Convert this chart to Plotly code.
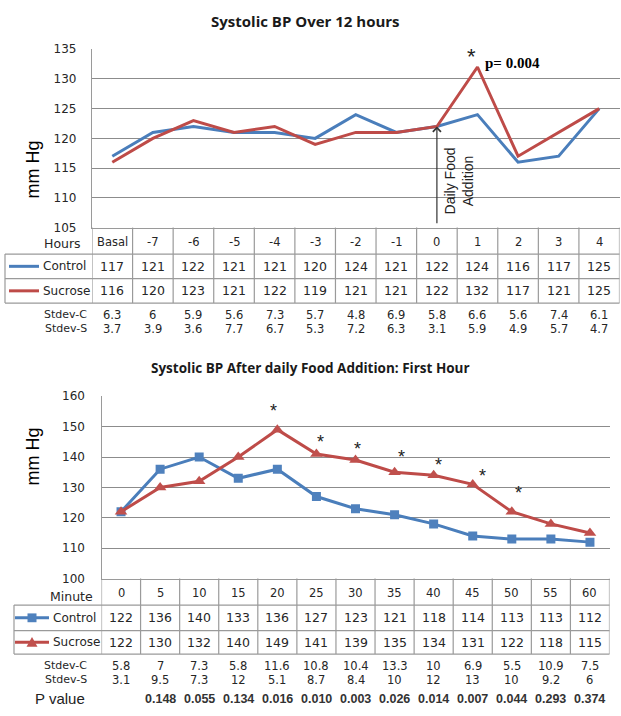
import plotly.graph_objects as go

W, H = 621, 716

# ---------------- data ----------------
hours = ["Basal", "-7", "-6", "-5", "-4", "-3", "-2", "-1", "0", "1", "2", "3", "4"]
ctrl_12h = [117, 121, 122, 121, 121, 120, 124, 121, 122, 124, 116, 117, 125]
sucr_12h = [116, 120, 123, 121, 122, 119, 121, 121, 122, 132, 117, 121, 125]
sd_c_12h = ["6.3", "6", "5.9", "5.6", "7.3", "5.7", "4.8", "6.9", "5.8", "6.6", "5.6", "7.4", "6.1"]
sd_s_12h = ["3.7", "3.9", "3.6", "7.7", "6.7", "5.3", "7.2", "6.3", "3.1", "5.9", "4.9", "5.7", "4.7"]

minutes = ["0", "5", "10", "15", "20", "25", "30", "35", "40", "45", "50", "55", "60"]
ctrl_1h = [122, 136, 140, 133, 136, 127, 123, 121, 118, 114, 113, 113, 112]
sucr_1h = [122, 130, 132, 140, 149, 141, 139, 135, 134, 131, 122, 118, 115]
sd_c_1h = ["5.8", "7", "7.3", "5.8", "11.6", "10.8", "10.4", "13.3", "10", "6.9", "5.5", "10.9", "7.5"]
sd_s_1h = ["3.1", "9.5", "7.3", "12", "5.1", "8.7", "8.4", "10", "12", "13", "10", "9.2", "6"]
p_vals = ["", "0.148", "0.055", "0.134", "0.016", "0.010", "0.003", "0.026", "0.014", "0.007", "0.044", "0.293", "0.374"]
sig_1h = [False, False, False, False, True, True, True, True, True, True, True, False, False]

BLUE_L, RED_L = "#4A7EBB", "#BE4B48"
BLUE_M, RED_M = "#4F81BD", "#C0504D"
GRID = "#8C8C8C"
BORDER = "#9A9A9A"
TXT = "#262626"
FT = "DejaVu Sans"


def px(p):
    return p / W


def py(p):
    return 1 - p / H


# plot-area geometry (pixels)
T_L, T_R, T_T, T_B = 92, 619.5, 43, 225
B_L, B_R, B_T, B_B = 101.5, 609.5, 397, 583

fig = go.Figure()
fig.add_trace(go.Scatter(x=hours, y=ctrl_12h, mode="lines", line=dict(color=BLUE_L, width=3),
                         xaxis="x", yaxis="y", name="Control", hoverinfo="x+y"))
fig.add_trace(go.Scatter(x=hours, y=sucr_12h, mode="lines", line=dict(color=RED_L, width=3),
                         xaxis="x", yaxis="y", name="Sucrose", hoverinfo="x+y"))
fig.add_trace(go.Scatter(x=minutes, y=ctrl_1h, mode="lines+markers", line=dict(color=BLUE_L, width=3),
                         marker=dict(symbol="square", size=9, color=BLUE_M),
                         xaxis="x2", yaxis="y2", name="Control", hoverinfo="x+y"))
fig.add_trace(go.Scatter(x=minutes, y=sucr_1h, mode="lines+markers", line=dict(color=RED_L, width=3),
                         marker=dict(symbol="triangle-up", size=11, color=RED_M),
                         xaxis="x2", yaxis="y2", name="Sucrose", hoverinfo="x+y"))

ann = []
shapes = []


def text(x, y, s, xref="paper", size=12, anchor="center", color=TXT, family=FT):
    ann.append(dict(x=x, y=py(y), xref=xref, yref="paper", text=s, showarrow=False,
                    xanchor=anchor, yanchor="middle",
                    font=dict(size=size, color=color, family=family)))


def hline(y, x0, x1, color=BORDER, w=1.2):
    shapes.append(dict(type="line", xref="paper", yref="paper", x0=px(x0), x1=px(x1),
                       y0=py(y), y1=py(y), line=dict(color=color, width=w)))


def vline_cat(xref, i, y0, y1, color=BORDER, w=1.2):
    shapes.append(dict(type="line", xref=xref, yref="paper", x0=i - 0.5, x1=i - 0.5,
                       y0=py(y0), y1=py(y1), line=dict(color=color, width=w)))


def vline_px(x, y0, y1, color=BORDER, w=1.2):
    shapes.append(dict(type="line", xref="paper", yref="paper", x0=px(x), x1=px(x),
                       y0=py(y0), y1=py(y1), line=dict(color=color, width=w)))


# ---------------- titles ----------------
text(px(305), 14, "<b>Systolic BP Over 12 hours</b>", size=15, family="Open Sans", color="#1a1a1a")
text(px(310), 368, "<b>Systolic BP After daily Food Addition: First Hour</b>", size=13.5, family="Open Sans", color="#1a1a1a")
ann.append(dict(x=px(21), y=py(134), xref="paper", yref="paper", text="mm Hg", textangle=-90,
                showarrow=False, font=dict(size=18, family="Liberation Sans", color="black")))
ann.append(dict(x=px(21), y=py(490), xref="paper", yref="paper", text="mm Hg", textangle=-90,
                showarrow=False, font=dict(size=18, family="Liberation Sans", color="black")))

# ---------------- top table ----------------
r_hdr, r_c, r_s, r_b = 225, 252, 277, 302
for i in range(14):
    vline_cat("x", i, r_hdr, r_b)
hline(r_c, 5, T_R)
hline(r_s, 5, T_R)
hline(r_b, 5, T_R)
vline_px(5, r_c, r_b)
text(px(83), 241, "Hours", size=12.5, anchor="right")
text(px(41), (r_c + r_s) / 2, "Control", size=12, anchor="left")
text(px(41), (r_s + r_b) / 2, "Sucrose", size=12, anchor="left")
hline((r_c + r_s) / 2, 9, 39, color=BLUE_L, w=3)
hline((r_s + r_b) / 2, 9, 39, color=RED_L, w=3)
text(px(89), 314, "Stdev-C", size=11, anchor="right")
text(px(89), 328, "Stdev-S", size=11, anchor="right")
for i in range(13):
    text(i, (r_hdr + r_c) / 2 + 1, hours[i], xref="x", size=11.5)
    text(i, (r_c + r_s) / 2, str(ctrl_12h[i]), xref="x", size=12.5)
    text(i, (r_s + r_b) / 2, str(sucr_12h[i]), xref="x", size=12.5)
    text(i, 314, sd_c_12h[i], xref="x", size=11.5)
    text(i, 328, sd_s_12h[i], xref="x", size=11.5)

# arrow + label + significance (top)
i0 = hours.index("0")
ann.append(dict(x=i0, y=ctrl_12h[i0], xref="x", yref="y",
                ax=i0, ay=105.5, axref="x", ayref="y", text="", showarrow=True,
                arrowhead=4, arrowsize=1.3, arrowwidth=1.2, arrowcolor="#333333", standoff=0))
ann.append(dict(x=i0 + 0.55, y=112.8, xref="x", yref="y", text="Daily Food<br>Addition",
                textangle=-90, showarrow=False, font=dict(size=14, family="Liberation Sans", color="#222")))
ipk = hours.index("1")
ann.append(dict(x=ipk, y=sucr_12h[ipk], xref="x", yref="y", text="*", showarrow=False,
                xshift=-6, yshift=10, font=dict(size=22, family="Liberation Sans", color="#222")))
ann.append(dict(x=ipk, y=sucr_12h[ipk], xref="x", yref="y", text="<b>p= 0.004</b>", showarrow=False,
                xanchor="left", xshift=6, yshift=4, font=dict(size=15, family="Liberation Serif", color="black")))

# ---------------- bottom table ----------------
q_hdr, q_c, q_s, q_b = 583, 610, 636, 660
for i in range(14):
    vline_cat("x2", i, q_hdr, q_b)
hline(q_c, 14, B_R)
hline(q_s, 14, B_R)
hline(q_b, 14, B_R)
vline_px(14, q_c, q_b)
text(px(95), 601, "Minute", size=12.5, anchor="right")
text(px(51), (q_c + q_s) / 2, "Control", size=12, anchor="left")
text(px(51), (q_s + q_b) / 2, "Sucrose", size=12, anchor="left")
hline((q_c + q_s) / 2, 15, 49, color=BLUE_L, w=3)
hline((q_s + q_b) / 2, 15, 49, color=RED_L, w=3)
yc = (q_c + q_s) / 2
shapes.append(dict(type="rect", xref="paper", yref="paper", x0=px(27.5), x1=px(36.5),
                   y0=py(yc + 4.5), y1=py(yc - 4.5), fillcolor=BLUE_M, line=dict(width=0)))
ys = (q_s + q_b) / 2
shapes.append(dict(type="path", xref="paper", yref="paper",
                   path="M %f,%f L %f,%f L %f,%f Z" % (px(26.5), py(ys + 4.5), px(37.5), py(ys + 4.5), px(32), py(ys - 5.5)),
                   fillcolor=RED_M, line=dict(width=0)))
text(px(89), 672, "Stdev-C", size=11, anchor="right")
text(px(89), 686, "Stdev-S", size=11, anchor="right")
text(px(87), 705, "P value", size=15, anchor="right", family="Liberation Sans", color="#222")
for i in range(13):
    text(i, (q_hdr + q_c) / 2 + 1, minutes[i], xref="x2", size=11.5)
    text(i, (q_c + q_s) / 2, str(ctrl_1h[i]), xref="x2", size=12.5)
    text(i, (q_s + q_b) / 2, str(sucr_1h[i]), xref="x2", size=12.5)
    text(i, 672, sd_c_1h[i], xref="x2", size=11.5)
    text(i, 686, sd_s_1h[i], xref="x2", size=11.5)
    if p_vals[i]:
        text(i, 706, "<b>" + p_vals[i] + "</b>", xref="x2", size=12.5, family="Liberation Sans", color="#333")

# significance asterisks (bottom)
shifts = {4: (-4, 19), 5: (4, 12), 6: (2, 11), 7: (7, 15), 8: (5, 10), 9: (10, 8), 10: (7, 19)}
for i, s in enumerate(sig_1h):
    if s:
        dx, dy = shifts[i]
        ann.append(dict(x=i, y=sucr_1h[i], xref="x2", yref="y2", text="*", showarrow=False,
                        xshift=dx, yshift=dy, font=dict(size=18, family="Liberation Sans", color="#222")))

axis_common = dict(showgrid=False, zeroline=False, showticklabels=False, ticks="",
                   type="category", range=[-0.5, 12.5], showline=True, linecolor=BORDER, linewidth=1.2)
yaxis_common = dict(showgrid=True, gridcolor=GRID, gridwidth=1, zeroline=False, showline=True,
                    linecolor=BORDER, linewidth=1.2, ticks="outside", tickcolor="rgba(0,0,0,0)",
                    tickfont=dict(family=FT, size=12, color=TXT))

fig.update_layout(
    width=W, height=H, margin=dict(l=0, r=0, t=0, b=0),
    paper_bgcolor="white", plot_bgcolor="white", showlegend=False,
    xaxis=dict(domain=[px(T_L), px(T_R)], anchor="y", **axis_common),
    yaxis=dict(domain=[py(T_B), py(T_T)], anchor="x", range=[105, 135], dtick=5, ticklen=12, **yaxis_common),
    xaxis2=dict(domain=[px(B_L), px(B_R)], anchor="y2", **axis_common),
    yaxis2=dict(domain=[py(B_B), py(B_T)], anchor="x2", range=[100, 160], dtick=10, ticklen=13, **yaxis_common),
    annotations=ann, shapes=shapes,
)
fig.write_html("out.html", config={"displayModeBar": False},
               post_script="document.body.style.margin='0';document.body.style.overflow='hidden';")
